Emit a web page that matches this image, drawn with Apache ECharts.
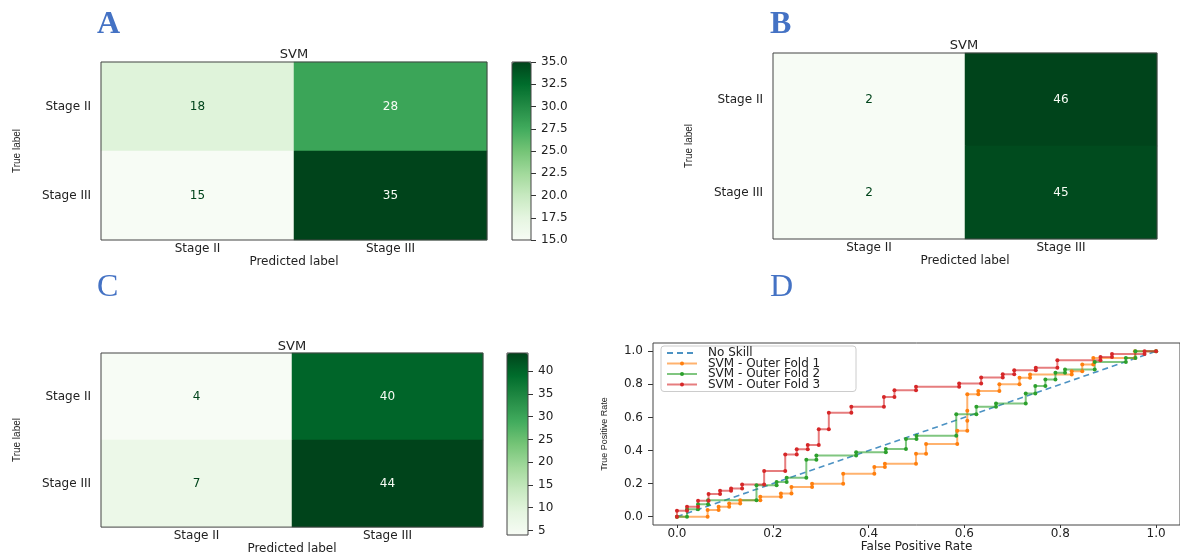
<!DOCTYPE html>
<html lang="en" style="height: 100%">
<head>
    <meta charset="utf-8">
    <meta name="viewport" content="width=device-width, initial-scale=1.0">
</head>
<body style="height: 100%; margin: 0; background: #fff">
<div id="container" style="height: 556px; width: 1180px"></div>

<script type="text/javascript" src="https://cdn.jsdelivr.net/npm/echarts@6/dist/echarts.min.js"></script>

<script type="text/javascript">
    // confusion matrices: rows = true label, cols = predicted label
    var stages = ['Stage II', 'Stage III'];
    var cmA = [[18, 28], [15, 35]];
    var cmB = [[2, 46], [2, 45]];
    var cmC = [[4, 40], [7, 44]];

    var barTicksA = [15, 17.5, 20, 22.5, 25, 27.5, 30, 32.5, 35];
    var barTicksC = [5, 10, 15, 20, 25, 30, 35, 40];
    var rocTicks = [0, 0.2, 0.4, 0.6, 0.8, 1.0];

    // ROC curves, [fpr, tpr]
    var noSkill = [[0, 0], [1, 1]];
    var fold1 = [[0, 0], [0.064, 0], [0.064, 0.04], [0.087, 0.04], [0.087, 0.06], [0.109, 0.06], [0.109, 0.08],
      [0.132, 0.08], [0.132, 0.10], [0.174, 0.10], [0.174, 0.12], [0.217, 0.12], [0.217, 0.14], [0.239, 0.14],
      [0.239, 0.18], [0.282, 0.18], [0.282, 0.20], [0.347, 0.20], [0.347, 0.26], [0.412, 0.26], [0.412, 0.30],
      [0.434, 0.30], [0.434, 0.32], [0.499, 0.32], [0.499, 0.38], [0.52, 0.38], [0.52, 0.44], [0.585, 0.44],
      [0.585, 0.52], [0.606, 0.52], [0.606, 0.58], [0.606, 0.64], [0.606, 0.74], [0.629, 0.74], [0.629, 0.76],
      [0.673, 0.76], [0.673, 0.80], [0.715, 0.80], [0.715, 0.84], [0.737, 0.84], [0.737, 0.86], [0.824, 0.86],
      [0.824, 0.88], [0.846, 0.88], [0.846, 0.92], [0.869, 0.92], [0.869, 0.96], [0.956, 0.96], [0.956, 1.0], [1, 1]];
    var fold2 = [[0, 0], [0.021, 0], [0.021, 0.045], [0.044, 0.045], [0.044, 0.075], [0.065, 0.075], [0.065, 0.10],
      [0.166, 0.10], [0.166, 0.19], [0.208, 0.19], [0.208, 0.21], [0.229, 0.21], [0.229, 0.235], [0.27, 0.235],
      [0.27, 0.345], [0.291, 0.345], [0.291, 0.37], [0.374, 0.37], [0.374, 0.39], [0.436, 0.39], [0.436, 0.41],
      [0.478, 0.41], [0.478, 0.47], [0.50, 0.47], [0.50, 0.49], [0.583, 0.49], [0.583, 0.62], [0.625, 0.62],
      [0.625, 0.665], [0.666, 0.665], [0.666, 0.685], [0.728, 0.685], [0.728, 0.745], [0.748, 0.745], [0.748, 0.79],
      [0.769, 0.79], [0.769, 0.83], [0.79, 0.83], [0.79, 0.87], [0.81, 0.87], [0.81, 0.89], [0.872, 0.89],
      [0.872, 0.935], [0.937, 0.935], [0.937, 0.96], [0.957, 0.96], [0.957, 1.0], [1, 1]];
    var fold3 = [[0, 0], [0, 0.036], [0.021, 0.036], [0.021, 0.06], [0.044, 0.06], [0.044, 0.097], [0.066, 0.097],
      [0.066, 0.137], [0.09, 0.137], [0.09, 0.157], [0.113, 0.157], [0.113, 0.171], [0.136, 0.171], [0.136, 0.195],
      [0.182, 0.195], [0.182, 0.276], [0.226, 0.276], [0.226, 0.376], [0.25, 0.376], [0.25, 0.408], [0.273, 0.408],
      [0.273, 0.433], [0.296, 0.433], [0.296, 0.529], [0.317, 0.529], [0.317, 0.628], [0.364, 0.628], [0.364, 0.664],
      [0.432, 0.664], [0.432, 0.724], [0.454, 0.724], [0.454, 0.765], [0.499, 0.765], [0.499, 0.785], [0.589, 0.785],
      [0.589, 0.805], [0.635, 0.805], [0.635, 0.841], [0.68, 0.841], [0.68, 0.861], [0.704, 0.861], [0.704, 0.885],
      [0.749, 0.885], [0.749, 0.901], [0.794, 0.901], [0.794, 0.946], [0.884, 0.946], [0.884, 0.965], [0.908, 0.965],
      [0.908, 0.983], [0.976, 0.983], [0.976, 1.0], [1, 1]];

    var greens = ['#f7fcf5', '#e5f5e0', '#c7e9c0', '#a1d99b', '#74c476', '#41ab5d', '#238b45', '#006d2c', '#00441b'];
    var FONT = 'DejaVu Sans';
    var NARROW = '"Liberation Sans Narrow", "Liberation Sans", sans-serif';
    var TXT = '#222';
    var FS = 12;

    // heatmap cells, text colour flips at the middle of the range like sklearn does
    function cells(cm) {
      var flat = cm[0].concat(cm[1]);
      var mid = (Math.min.apply(null, flat) + Math.max.apply(null, flat)) / 2;
      var out = [];
      cm.forEach(function (row, i) {
        row.forEach(function (v, j) {
          out.push({ value: [j, i, v], label: { color: v < mid ? greens[8] : greens[0] } });
        });
      });
      return out;
    }

    function cmX(gi) {
      return {
        gridIndex: gi, type: 'category', data: stages,
        axisLine: { show: false },
        axisTick: { alignWithLabel: true, length: 3, lineStyle: { color: '#333' } },
        axisLabel: { margin: 3, fontSize: FS, fontFamily: FONT, color: TXT },
        splitLine: { show: false },
        name: 'Predicted label', nameLocation: 'middle', nameGap: 11,
        nameTextStyle: { fontSize: FS, fontFamily: FONT, color: TXT }
      };
    }
    function cmY(gi) {
      return {
        gridIndex: gi, type: 'category', data: stages, inverse: true,
        axisLine: { show: false },
        axisTick: { alignWithLabel: true, length: 5, lineStyle: { color: '#333' } },
        axisLabel: { margin: 10, fontSize: FS, fontFamily: FONT, color: TXT },
        splitLine: { show: false },
        name: 'True label', nameLocation: 'middle', nameGap: 79, nameRotate: 90,
        nameTextStyle: { fontSize: 10, fontFamily: NARROW, color: TXT }
      };
    }
    function barX(gi) {
      return { gridIndex: gi, type: 'value', min: 0, max: 1, show: false };
    }
    function barY(gi, lo, hi, ticks, dec) {
      return {
        gridIndex: gi, type: 'value', min: lo, max: hi, position: 'right',
        axisLine: { show: false, onZero: false },
        splitLine: { show: false },
        axisTick: { show: true, length: 5, customValues: ticks, lineStyle: { color: '#333' } },
        axisLabel: {
          customValues: ticks, margin: 10, fontSize: FS, fontFamily: FONT, color: TXT,
          formatter: function (v) { return v.toFixed(dec); }
        }
      };
    }
    function frame(l, t, w, h) {
      return { left: l, top: t, width: w, height: h, show: true, z: 10,
        backgroundColor: 'transparent', borderColor: '#444', borderWidth: 1 };
    }
    function letter(txt, l, t, bold) {
      return { text: txt, left: l, top: t, padding: 0,
        textStyle: { fontFamily: 'Liberation Serif', fontSize: 32, fontWeight: bold ? 'bold' : 'normal', color: '#4472C4' } };
    }
    function svmTitle(cx, t) {
      return { text: 'SVM', left: cx, top: t, textAlign: 'center', padding: 0,
        textStyle: { fontFamily: FONT, fontSize: 13, fontWeight: 'normal', color: TXT } };
    }
    function roc(name, data, color) {
      return {
        type: 'line', name: name, xAxisIndex: 5, yAxisIndex: 5, data: data,
        symbol: 'circle', symbolSize: 4, showSymbol: true, color: color,
        lineStyle: { width: 2, opacity: 0.6 }, itemStyle: { color: color },
        emphasis: { disabled: true }
      };
    }
    function heat(gi, cm) {
      return {
        type: 'heatmap', xAxisIndex: gi, yAxisIndex: gi, data: cells(cm),
        label: { show: true, fontSize: FS, fontFamily: FONT },
        emphasis: { disabled: true }
      };
    }

    var dom = document.getElementById('container');
    var myChart = echarts.init(dom, null, { renderer: 'canvas' });

    var option = {
      animation: false,
      backgroundColor: '#fff',
      title: [
        letter('A', 97, 9, true), letter('B', 770, 9, true),
        letter('C', 97, 272, false), letter('D', 770, 272, false),
        svmTitle(294, 48), svmTitle(964, 39), svmTitle(292, 340)
      ],
      grid: [
        frame(101, 62, 386, 178),
        frame(512, 62, 19, 178),
        frame(773, 53, 384, 186),
        frame(101, 353, 382, 182),
        frame(507, 353, 21, 182),
        frame(653, 343, 531, 182)
      ],
      xAxis: [
        cmX(0), barX(1), cmX(2), cmX(3), barX(4),
        {
          gridIndex: 5, type: 'value', min: -0.05, max: 1.05,
          axisLine: { show: false, onZero: false }, splitLine: { show: false },
          axisTick: { show: true, length: 3, customValues: rocTicks, lineStyle: { color: '#333' } },
          axisLabel: { customValues: rocTicks, margin: 3, fontSize: FS, fontFamily: FONT, color: TXT,
            formatter: function (v) { return v.toFixed(1); } },
          name: 'False Positive Rate', nameLocation: 'middle', nameGap: 12,
          nameTextStyle: { fontSize: FS, fontFamily: FONT, color: TXT }
        }
      ],
      yAxis: [
        cmY(0), barY(1, 15, 35, barTicksA, 1), cmY(2), cmY(3), barY(4, 4, 44, barTicksC, 0),
        {
          gridIndex: 5, type: 'value', min: -0.05, max: 1.05,
          axisLine: { show: false, onZero: false }, splitLine: { show: false },
          axisTick: { show: true, length: 5, customValues: rocTicks, lineStyle: { color: '#333' } },
          axisLabel: { customValues: rocTicks, margin: 10, fontSize: FS, fontFamily: FONT, color: TXT,
            formatter: function (v) { return v.toFixed(1); } },
          name: 'True Positive Rate', nameLocation: 'middle', nameGap: 44, nameRotate: 90,
          nameTextStyle: { fontSize: 9, fontFamily: NARROW, color: TXT }
        }
      ],
      visualMap: [
        { type: 'continuous', seriesIndex: 0, min: 15, max: 35, left: 512, top: 62, itemWidth: 19, itemHeight: 178,
          padding: 0, calculable: false, hoverLink: false, inRange: { color: greens } },
        { type: 'continuous', seriesIndex: 1, min: 2, max: 46, show: false, inRange: { color: greens } },
        { type: 'continuous', seriesIndex: 2, min: 4, max: 44, left: 507, top: 353, itemWidth: 21, itemHeight: 182,
          padding: 0, calculable: false, hoverLink: false, inRange: { color: greens } }
      ],
      legend: {
        left: 661, top: 346, orient: 'vertical',
        data: [
          { name: 'No Skill', itemStyle: { opacity: 0 } },
          'SVM - Outer Fold 1', 'SVM - Outer Fold 2', 'SVM - Outer Fold 3'
        ],
        itemWidth: 30, itemHeight: 5, itemGap: -1.5,
        textStyle: { fontSize: FS, fontFamily: FONT, color: TXT, lineHeight: 10, padding: [0, 0, 0, 6],
          width: 142, overflow: 'truncate' },
        backgroundColor: '#fff', borderColor: '#ccc', borderWidth: 1, borderRadius: 3,
        padding: [1, 6, 1, 5]
      },
      series: [
        heat(0, cmA), heat(2, cmB), heat(3, cmC),
        {
          type: 'line', name: 'No Skill', xAxisIndex: 5, yAxisIndex: 5, data: noSkill,
          symbol: 'none', color: '#1f77b4',
          lineStyle: { type: [6, 4], width: 1.6, opacity: 0.8 },
          emphasis: { disabled: true }
        },
        roc('SVM - Outer Fold 1', fold1, '#ff7f0e'),
        roc('SVM - Outer Fold 2', fold2, '#2ca02c'),
        roc('SVM - Outer Fold 3', fold3, '#d62728')
      ]
    };

    myChart.setOption(option);
    window.addEventListener('resize', myChart.resize);
</script>
</body>
</html>
